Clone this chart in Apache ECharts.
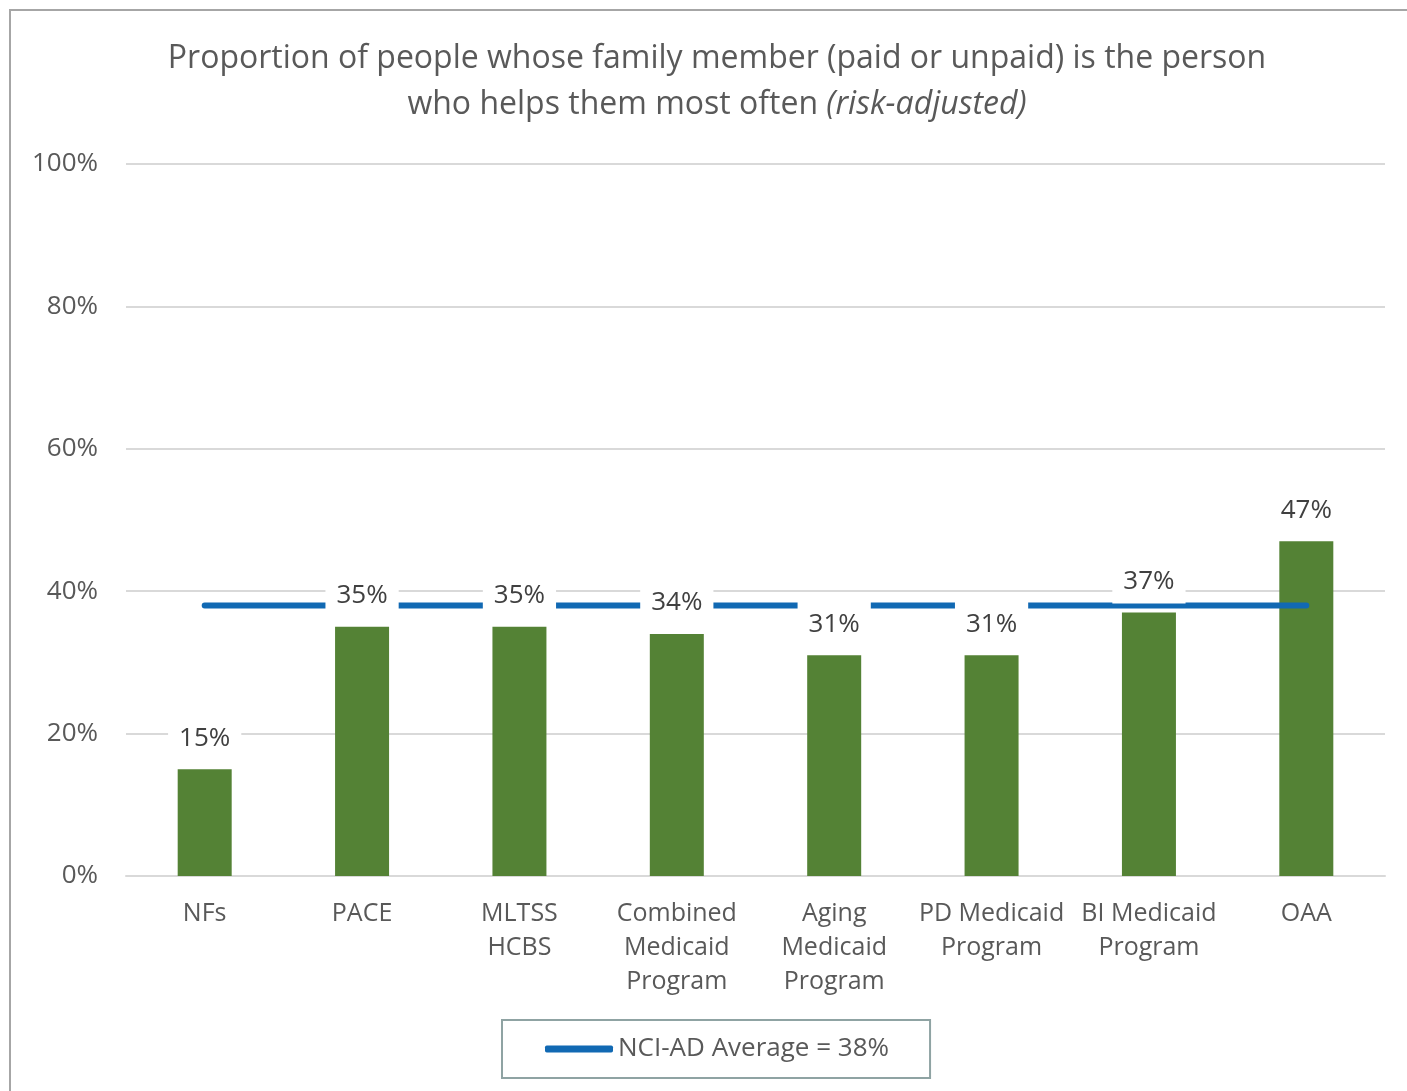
<!DOCTYPE html>
<html>
<head>
<meta charset="utf-8">
<title>Family member helper proportion</title>
<script src="https://cdn.jsdelivr.net/npm/echarts@6/dist/echarts.min.js"></script>
<style>
  html, body { margin: 0; padding: 0; background: #ffffff; }
  #chart { width: 1407px; height: 1091px; }
</style>
</head>
<body>
<div id="chart"></div>
<script>
// Program categories (x axis)
const categories = [
  'NFs',
  'PACE',
  'MLTSS\nHCBS',
  'Combined\nMedicaid\nProgram',
  'Aging\nMedicaid\nProgram',
  'PD Medicaid\nProgram',
  'BI Medicaid\nProgram',
  'OAA'
];

// Risk-adjusted proportion (%) for each program
const proportions = [15, 35, 35, 34, 31, 31, 37, 47];

// Overall NCI-AD average (%)
const averageValue = 38;
const averageName = 'NCI-AD Average = 38%';

// Value axis ticks
const yMin = 0;
const yMax = 100;
const yStep = 20;

const FONT = '"Open Sans", "Noto Sans", sans-serif';
const TEXT_GRAY = '#595959';

const chart = echarts.init(document.getElementById('chart'), null, { renderer: 'canvas' });

chart.setOption({
  backgroundColor: '#ffffff',
  animation: false,
  title: {
    text: 'Proportion of people whose family member (paid or unpaid) is the person\nwho helps them most often {i|(risk-adjusted)}',
    left: 712,
    top: 31,
    textAlign: 'center',
    textStyle: {
      fontFamily: FONT,
      fontSize: 32,
      fontWeight: 'normal',
      color: TEXT_GRAY,
      lineHeight: 46,
      rich: {
        i: {
          fontFamily: FONT,
          fontSize: 32,
          fontStyle: 'italic',
          color: TEXT_GRAY,
          lineHeight: 46
        }
      }
    }
  },
  legend: {
    data: [{ name: averageName, icon: 'roundRect' }],
    left: 502,
    top: 1020,
    padding: [16, 41, 16, 43],
    borderColor: '#8fa3a3',
    borderWidth: 2,
    itemWidth: 68,
    itemHeight: 7,
    textStyle: {
      fontFamily: FONT,
      fontSize: 26,
      color: TEXT_GRAY
    }
  },
  graphic: [
    {
      type: 'rect',
      z: -1,
      shape: { x: 10, y: 10, width: 1500, height: 1200 },
      style: { fill: 'none', stroke: '#a6a6a6', lineWidth: 2 }
    }
  ],
  grid: {
    left: 126,
    right: 22,
    top: 164,
    bottom: 215,
    containLabel: false
  },
  xAxis: {
    type: 'category',
    data: categories,
    boundaryGap: true,
    axisLine: { show: true, lineStyle: { color: '#d9d9d9', width: 2 } },
    axisTick: { show: false },
    axisLabel: {
      interval: 0,
      margin: 21,
      fontFamily: FONT,
      fontSize: 25,
      lineHeight: 34,
      color: TEXT_GRAY
    }
  },
  yAxis: {
    type: 'value',
    min: yMin,
    max: yMax,
    interval: yStep,
    axisLine: { show: false },
    axisTick: { show: false },
    splitLine: { lineStyle: { color: '#d9d9d9', width: 2 } },
    axisLabel: {
      formatter: '{value}%',
      margin: 28,
      fontFamily: FONT,
      fontSize: 26,
      color: TEXT_GRAY
    }
  },
  series: [
    {
      name: 'Proportion',
      type: 'bar',
      data: proportions,
      barWidth: 54,
      z: 2,
      itemStyle: { color: '#548235' }
    },
    {
      name: averageName,
      type: 'line',
      data: categories.map(() => averageValue),
      z: 3,
      showSymbol: false,
      symbol: 'none',
      lineStyle: { color: '#1169b3', width: 6, cap: 'round' },
      itemStyle: { color: '#1169b3' }
    },
    {
      // transparent twin bars carrying the value labels above the average line
      name: 'Labels',
      type: 'bar',
      data: proportions,
      barWidth: 54,
      barGap: '-100%',
      z: 4,
      itemStyle: { color: 'rgba(0,0,0,0)' },
      label: {
        show: true,
        position: 'top',
        distance: 9,
        formatter: '{c}%',
        fontFamily: FONT,
        fontSize: 26,
        lineHeight: 26,
        color: '#404040',
        backgroundColor: '#ffffff',
        padding: [15, 11, 9, 11]
      }
    }
  ]
});
</script>
</body>
</html>
